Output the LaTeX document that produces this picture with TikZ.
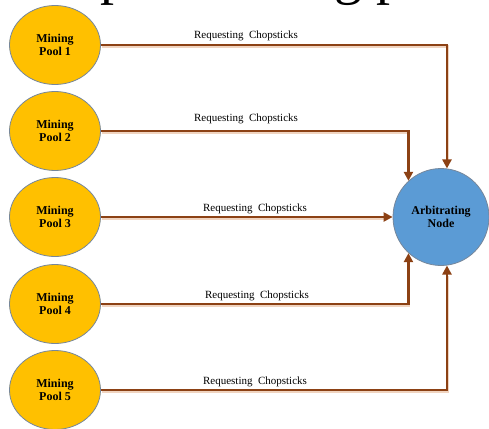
\documentclass[tikz,border=0pt]{standalone}
\usepackage{fontspec}
\setmainfont{Liberation Serif}
\usetikzlibrary{shapes.geometric,arrows.meta}
\definecolor{poolfill}{RGB}{255,192,0}
\definecolor{arbfill}{RGB}{91,155,213}
\definecolor{rimcol}{RGB}{118,135,155}
\definecolor{linkcol}{RGB}{140,65,20}
\definecolor{linkshade}{RGB}{240,212,192}
\begin{document}
\begin{tikzpicture}[x=1pt,y=-1pt,
  pool/.style={ellipse,draw=rimcol,line width=0.8pt,fill=poolfill,
    minimum width=91pt,minimum height=79pt,inner sep=0pt,align=center,
    font=\fontsize{12}{13.3}\selectfont\bfseries},
  arbiter/.style={pool,fill=arbfill,minimum width=96pt,minimum height=97pt},
  link/.style={draw=linkcol,line width=2.8pt,-{Triangle[length=9pt,width=9pt]}},
  shade/.style={draw=linkshade,line width=2.8pt,shorten >=9pt,
    transform canvas={shift={(0.6pt,-1.2pt)}}},
  req/.style={anchor=base,inner sep=0pt,font=\fontsize{11}{13}\selectfont},
  headline/.style={anchor=base west,inner sep=0pt,font=\fontsize{56}{56}\selectfont}]
\useasboundingbox (0,0) rectangle (489,428);
\clip (0,0) rectangle (489,428);

% descenders of the text line above the figure
\node[headline] (hd1) at (100,-6) {p};
\node[headline] (hd2) at (334,-6) {g p};

% mining pools and the arbiter
\node[pool] (p1) at (55,45) {Mining\\Pool 1};
\node[pool] (p2) at (55,131) {Mining\\Pool 2};
\node[pool] (p3) at (55,217) {Mining\\Pool 3};
\node[pool] (p4) at (55,304) {Mining\\Pool 4};
\node[pool] (p5) at (55,390) {Mining\\Pool 5};
\node[arbiter] (arb) at (441,217) {Arbitrating\\Node};

% soft shadow under the request lines
\draw[shade] (p1.east) -| (arb.83);
\draw[shade] (p2.east) -| (arb.132);
\draw[shade] (p3.east) -- (arb.west);
\draw[shade] (p4.east) -| (arb.228);
\draw[shade] (p5.east) -| (arb.277);

% request lines
\draw[link] (p1.east) -| (arb.83);
\draw[link] (p2.east) -| (arb.132);
\draw[link] (p3.east) -- (arb.west);
\draw[link] (p4.east) -| (arb.228);
\draw[link] (p5.east) -| (arb.277);

% labels
\node[req] (l1) at (246,38) {Requesting\ \ Chopsticks};
\node[req] (l2) at (246,121) {Requesting\ \ Chopsticks};
\node[req] (l3) at (255,211) {Requesting\ \ Chopsticks};
\node[req] (l4) at (257,298) {Requesting\ \ Chopsticks};
\node[req] (l5) at (255,384) {Requesting\ \ Chopsticks};
\end{tikzpicture}
\end{document}
